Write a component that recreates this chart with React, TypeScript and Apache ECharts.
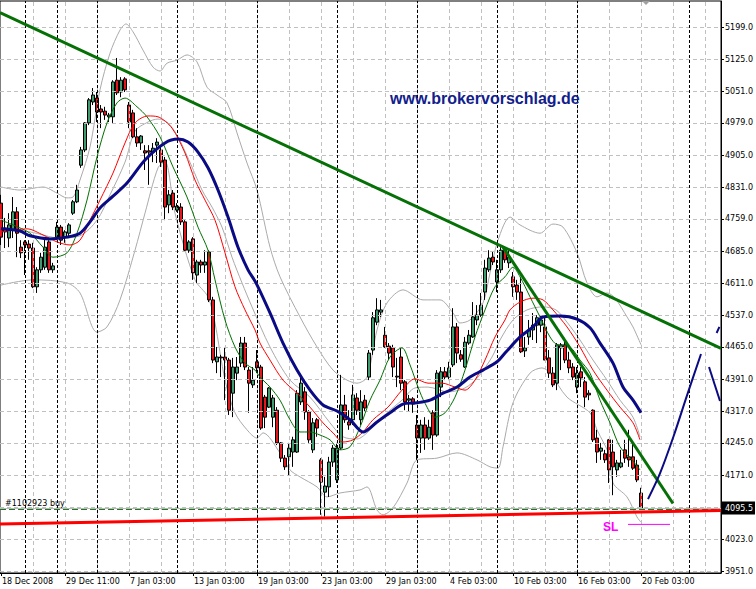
import React, { useEffect, useRef } from "react";
import * as echarts from "echarts";

// ---------- axis texts ----------
const tickBars = [0, 16, 32, 48, 64, 80, 96, 112, 128, 144, 160];
const tickLabels = ["18 Dec 2008", "29 Dec 11:00", "7 Jan 03:00", "13 Jan 03:00", "19 Jan 03:00", "23 Jan 03:00", "29 Jan 03:00", "4 Feb 03:00", "10 Feb 03:00", "16 Feb 03:00", "20 Feb 03:00"];
const priceLabels = [5199, 5125, 5051, 4979, 4905, 4831, 4759, 4685, 4611, 4537, 4465, 4391, 4317, 4245, 4171, 4023, 3951];
const priceGrid = [5199, 5125, 5051, 4979, 4905, 4831, 4759, 4685, 4611, 4537, 4465, 4391, 4317, 4245, 4171, 4097, 4023, 3951];
const gridBars = [8, 16, 24, 32, 40, 48, 56, 64, 72, 80, 88, 96, 104, 112, 120, 128, 136, 144, 152, 160, 168, 176];
const weekSeparators = [6, 14, 24, 44, 64, 84, 104, 124, 144, 172];

// ---------- candles (bar index = position in array) ----------
const opens = [
  4795, 4729, 4715, 4733, 4775, 4694, 4706, 4701, 4692, 4603,
  4642, 4648, 4706, 4642, 4717, 4740, 4717, 4726, 4772, 4798,
  4882, 4917, 4979, 5027, 5036, 5011, 5006, 4993, 4993, 5077,
  5050, 5080, 5020, 5002, 4947, 4933, 4915, 4915, 4912, 4928,
  4917, 4894, 4791, 4818, 4779, 4786, 4752, 4687, 4713, 4630,
  4660, 4653, 4683, 4573, 4431, 4442, 4442, 4435, 4359, 4405,
  4428, 4474, 4412, 4378, 4431, 4419, 4350, 4327, 4304, 4320,
  4245, 4210, 4213, 4224, 4224, 4339, 4362, 4316, 4229, 4298,
  4206, 4132, 4144, 4201, 4160, 4233, 4332, 4293, 4298, 4348,
  4298, 4343, 4396, 4458, 4522, 4545, 4492, 4467, 4463, 4398,
  4442, 4385, 4343, 4346, 4286, 4256, 4286, 4256, 4314, 4263,
  4373, 4408, 4396, 4424, 4511, 4447, 4419, 4474, 4488, 4527,
  4538, 4591, 4642, 4671, 4614, 4642, 4687, 4658, 4626, 4607,
  4591, 4456, 4488, 4504, 4515, 4515, 4511, 4440, 4405, 4382,
  4463, 4470, 4435, 4419, 4373, 4408, 4385, 4359, 4320, 4256,
  4226, 4220, 4252, 4224, 4183, 4190, 4229, 4213, 4213, 4194,
  4130,
];
const closes = [
  4717, 4738, 4745, 4775, 4726, 4681, 4699, 4692, 4603, 4642,
  4671, 4694, 4642, 4651, 4740, 4710, 4729, 4745, 4798, 4825,
  4917, 4979, 5032, 5043, 5004, 5004, 4997, 4997, 5073, 5048,
  5077, 5055, 4981, 4947, 4933, 4949, 4910, 4912, 4921, 4935,
  4889, 4786, 4814, 4786, 4788, 4752, 4687, 4706, 4635, 4660,
  4653, 4660, 4573, 4435, 4442, 4440, 4435, 4320, 4419, 4419,
  4474, 4419, 4382, 4389, 4417, 4279, 4304, 4371, 4348, 4245,
  4210, 4190, 4233, 4252, 4359, 4382, 4316, 4252, 4291, 4279,
  4155, 4146, 4201, 4233, 4233, 4332, 4298, 4286, 4355, 4320,
  4339, 4325, 4451, 4532, 4550, 4550, 4465, 4451, 4419, 4396,
  4382, 4339, 4346, 4334, 4256, 4286, 4256, 4281, 4263, 4405,
  4408, 4396, 4417, 4511, 4451, 4437, 4476, 4492, 4534, 4538,
  4561, 4646, 4669, 4660, 4642, 4687, 4665, 4671, 4603, 4591,
  4454, 4463, 4504, 4515, 4532, 4527, 4435, 4405, 4378, 4470,
  4470, 4435, 4417, 4396, 4405, 4394, 4350, 4355, 4252, 4224,
  4233, 4206, 4183, 4190, 4199, 4199, 4210, 4206, 4187, 4160,
  4095.5,
];
const lows = [
  4699, 4692, 4694, 4715, 4671, 4669, 4630, 4665, 4600, 4589,
  4635, 4642, 4635, 4635, 4710, 4699, 4704, 4717, 4768, 4795,
  4876, 4912, 4974, 5020, 4981, 4967, 4986, 4981, 4979, 5043,
  5038, 5050, 4967, 4944, 4924, 4917, 4871, 4837, 4889, 4887,
  4878, 4756, 4772, 4779, 4775, 4745, 4683, 4681, 4619, 4612,
  4635, 4635, 4568, 4428, 4405, 4396, 4343, 4309, 4304, 4389,
  4419, 4412, 4314, 4371, 4405, 4275, 4279, 4325, 4281, 4240,
  4201, 4183, 4171, 4190, 4222, 4332, 4298, 4245, 4222, 4259,
  4080, 4076, 4121, 4190, 4153, 4229, 4291, 4275, 4286, 4309,
  4286, 4316, 4389, 4447, 4515, 4534, 4463, 4435, 4396, 4373,
  4366, 4320, 4316, 4314, 4206, 4222, 4229, 4252, 4229, 4259,
  4350, 4389, 4389, 4419, 4428, 4431, 4417, 4470, 4486, 4515,
  4534, 4573, 4637, 4653, 4591, 4635, 4658, 4646, 4580, 4573,
  4451, 4442, 4470, 4481, 4474, 4499, 4435, 4394, 4373, 4366,
  4412, 4428, 4405, 4389, 4359, 4373, 4327, 4343, 4247, 4199,
  4206, 4199, 4153, 4125, 4167, 4187, 4199, 4190, 4183, 4155,
  4091,
];
const highs = [
  4814, 4761, 4772, 4809, 4786, 4710, 4710, 4710, 4704, 4648,
  4681, 4717, 4710, 4658, 4752, 4745, 4733, 4749, 4802, 4837,
  4924, 4981, 5036, 5059, 5050, 5020, 5016, 5002, 5077, 5128,
  5084, 5084, 5027, 5009, 4967, 4951, 4928, 4928, 4933, 4944,
  4924, 4901, 4825, 4825, 4795, 4795, 4756, 4710, 4717, 4665,
  4665, 4687, 4687, 4580, 4465, 4447, 4465, 4440, 4440, 4442,
  4488, 4488, 4419, 4419, 4458, 4424, 4355, 4373, 4355, 4327,
  4247, 4217, 4245, 4259, 4366, 4396, 4373, 4320, 4302, 4302,
  4210, 4167, 4213, 4240, 4245, 4401, 4355, 4320, 4378, 4359,
  4366, 4355, 4458, 4545, 4577, 4573, 4511, 4474, 4470, 4440,
  4465, 4389, 4355, 4350, 4309, 4298, 4304, 4298, 4320, 4412,
  4419, 4419, 4431, 4554, 4520, 4458, 4488, 4504, 4568, 4561,
  4589, 4665, 4687, 4683, 4665, 4694, 4694, 4687, 4637, 4619,
  4626, 4488, 4527, 4543, 4538, 4538, 4534, 4458, 4419, 4474,
  4474, 4486, 4454, 4428, 4419, 4419, 4396, 4366, 4322, 4275,
  4245, 4229, 4254, 4252, 4206, 4229, 4252, 4275, 4245, 4206,
  4142,
];

// ---------- indicator lines as [bar, price] ----------
const blueMA = [
  [0, 4736], [4.75, 4731], [7.25, 4720], [12.25, 4713], [16.5, 4717], [19.75, 4726], [22.25, 4752], [24.75, 4784],
  [28, 4811], [31.5, 4841], [36, 4894], [41, 4933], [44.25, 4942], [46.75, 4935], [49.25, 4912], [51.75, 4876],
  [54.25, 4825], [56.75, 4763], [59.25, 4694], [61.75, 4642], [63.75, 4612], [67.25, 4543], [70.5, 4474], [74, 4412],
  [77.25, 4366], [80.5, 4332], [84, 4318], [87.25, 4298], [90.5, 4270], [94, 4293], [97.25, 4314], [100.5, 4334],
  [104, 4337], [107.25, 4343], [110.5, 4359], [114, 4373], [117.25, 4396], [120.5, 4412], [124, 4431], [126, 4451],
  [129.75, 4488], [133, 4511], [135.5, 4534], [139.75, 4536], [144, 4529], [147.25, 4509], [149.75, 4474], [153, 4428],
  [155.5, 4373], [158, 4343], [160, 4314],
];
const redMA = [
  [0, 4729], [6.5, 4736], [10.5, 4722], [14, 4706], [17.25, 4699], [19.75, 4710], [22.25, 4756], [24.75, 4802],
  [28, 4864], [31, 4933], [33.5, 4979], [36.75, 4995], [39.25, 4993], [42.75, 4967], [46, 4910], [48.5, 4848],
  [51, 4802], [53.5, 4756], [56, 4681], [58.5, 4603], [61, 4550], [63.5, 4504], [64.75, 4474], [67.25, 4435],
  [70.5, 4389], [74, 4359], [77.25, 4327], [80.5, 4291], [83, 4268], [85.5, 4247], [88, 4252], [90.5, 4270],
  [93, 4298], [96.75, 4327], [100.25, 4366], [103.5, 4392], [106.75, 4382], [110.25, 4382], [113.5, 4373], [116, 4366],
  [118.5, 4389], [121, 4435], [123.5, 4488], [126, 4527], [127.25, 4550], [129.75, 4568], [133, 4577], [135.5, 4573],
  [138, 4550], [141.5, 4511], [144.75, 4465], [148, 4412], [151.5, 4366], [154.75, 4327], [158, 4291], [159.75, 4252],
];
const greenMA = [
  [0, 4756], [3, 4745], [7.25, 4726], [10.5, 4694], [13, 4671], [16.5, 4681], [19, 4726], [21.5, 4802],
  [24, 4901], [26.5, 4979], [29, 5025], [31, 5036], [34, 5016], [36.5, 4993], [39.75, 4947], [43, 4878],
  [46.5, 4809], [49.25, 4740], [51.75, 4687], [53.5, 4619], [56, 4527], [58.5, 4465], [61, 4428], [63.5, 4412],
  [64.75, 4396], [67.25, 4373], [69.75, 4343], [72.25, 4298], [74.75, 4270], [77.25, 4270], [79.75, 4263], [82.25, 4252],
  [84.75, 4229], [87.25, 4236], [89.75, 4281], [92.25, 4343], [94.75, 4389], [97.25, 4442], [100.25, 4463], [102.25, 4424],
  [104.25, 4373], [106, 4336], [108.5, 4304], [111, 4314], [113.5, 4350], [116, 4412], [118.5, 4488], [121, 4550],
  [123.5, 4603], [126, 4626], [128, 4648], [129.75, 4626], [132.25, 4580], [134.75, 4534], [137.25, 4488], [139, 4470],
  [142.25, 4465], [144.75, 4435], [147.25, 4405], [149.75, 4343], [152.25, 4291], [154.75, 4236], [157.75, 4206], [159.75, 4183],
];
const bbUpper = [
  [0, 4832], [4.75, 4825], [10.5, 4832], [14, 4818], [16.5, 4807], [18, 4809], [19.75, 4848], [22.25, 4924],
  [24.75, 5055], [27.25, 5139], [29.75, 5192], [31.25, 5206], [33, 5188], [35.5, 5146], [38, 5107], [39.75, 5098],
  [41.5, 5116], [44, 5123], [46.5, 5135], [49, 5119], [51.5, 5061], [54, 5043], [56.5, 5025], [59, 4956],
  [61.5, 4887], [64, 4825], [67.25, 4694], [69.75, 4626], [74.75, 4534], [79, 4465], [83, 4412], [86.5, 4389],
  [89, 4382], [91.5, 4396], [94, 4504], [96.5, 4566], [100.5, 4596], [105.5, 4573], [109.75, 4573], [113, 4543],
  [114.75, 4520], [117.25, 4527], [120.5, 4566], [122.25, 4635], [124.25, 4710], [127.25, 4763], [129.75, 4745], [134.75, 4726],
  [138, 4747], [140.5, 4740], [144, 4681], [146.5, 4612], [149, 4580], [151.5, 4589], [153.5, 4577], [156.5, 4534],
  [158, 4511], [160, 4470],
];
const bbMiddle = [
  [0, 4738], [7.25, 4729], [14.75, 4715], [19.75, 4720], [24, 4756], [27.25, 4814], [31, 4889], [33.5, 4960],
  [36.75, 4981], [39.25, 4988], [41.75, 4979], [44.25, 4947], [47.75, 4878], [50.25, 4825], [52.75, 4786], [55.25, 4740],
  [57.75, 4671], [60.25, 4612], [62.75, 4557], [67.25, 4465], [72.25, 4389], [77.25, 4350], [82.25, 4291], [85.5, 4259],
  [89, 4254], [91.5, 4268], [94.75, 4298], [96.75, 4316], [100.25, 4343], [103.5, 4371], [106.75, 4373], [111.75, 4362],
  [116, 4371], [119.25, 4396], [122.75, 4442], [124.75, 4481], [128, 4527], [131.5, 4550], [135.5, 4557], [138.75, 4550],
  [141.5, 4522], [144.75, 4481], [148, 4435], [151.5, 4389], [154.75, 4343], [158, 4304], [159.75, 4259],
];
const bbLower = [
  [0, 4607], [8, 4619], [16.5, 4612], [19.75, 4589], [24, 4499], [26.5, 4511], [29.75, 4573], [33.5, 4687],
  [36, 4772], [39.25, 4876], [41, 4890], [43.5, 4772], [48.5, 4619], [51.75, 4580], [53.5, 4520], [56, 4389],
  [58.5, 4314], [61.5, 4275], [64, 4256], [65.5, 4268], [69.75, 4222], [72.25, 4183], [74.75, 4167], [79, 4144],
  [81.5, 4121], [84.75, 4130], [89.75, 4137], [91.5, 4144], [94, 4091], [95.5, 4080], [98, 4096], [101.5, 4153],
  [104, 4206], [109, 4210], [114, 4222], [119, 4206], [122.25, 4190], [124.25, 4187], [125.5, 4236], [128, 4337],
  [132.25, 4405], [135.25, 4417], [137.25, 4405], [141.5, 4350], [147.25, 4314], [149, 4275], [152.25, 4213], [153, 4153],
  [156.5, 4121], [159, 4075], [160, 4063],
];

// ---------- drawn objects ----------
const bidPrice = 4095.5;
const orderPrice = 4092;
const supportLine = [[-0.25, 4059], [180, 4090]];
const longTrend = [[-0.25, 5232], [180, 4462]];
const steepTrend = [[125.5, 4694], [168, 4106]];
const arrowUp = [[161.75, 4116], [164.75, 4175], [168.1, 4259], [171.4, 4351], [175, 4449]];
const arrowDown = [[177, 4419], [179.75, 4341]];
const arrowTip = [[178.9, 4497], [179.6, 4511]];
const stopLoss = [[156.75, 4058], [167.25, 4058]];

const AXIS_FONT = "DejaVu Sans";

function lineSeries(name: string, data: number[][], color: string, width: number, z: number, smooth: number | boolean = 0.3) {
  return {
    name,
    type: "line",
    data,
    showSymbol: false,
    symbol: "none",
    smooth,
    silent: true,
    z,
    lineStyle: { color, width },
  };
}

export default function App() {
  const ref = useRef<HTMLDivElement>(null);
  useEffect(() => {
    document.body.style.margin = "0";
    const chart = echarts.init(ref.current!, null, { renderer: "svg", width: 756, height: 589 });
    const candleData = opens.map((o, i) => [i, o, closes[i], lows[i], highs[i]]);
    const option: any = {
      animation: false,
      backgroundColor: "#ffffff",
      grid: {
        left: 0, top: 1, width: 721, height: 572,
        show: true, borderColor: "#000", borderWidth: 1, backgroundColor: "#fff",
        containLabel: false, outerBoundsMode: "none",
      },
      xAxis: {
        type: "value", min: -0.25, max: 180, position: "bottom",
        axisLine: { show: true, onZero: false, lineStyle: { color: "#000", width: 1 } },
        axisTick: { show: true, customValues: tickBars, length: 3, lineStyle: { color: "#000" } },
        axisLabel: {
          customValues: tickBars,
          formatter: (v: number) => tickLabels[tickBars.indexOf(Math.round(v))] ?? "",
          align: "left", margin: 4, padding: [0, 0, 0, 1],
          color: "#000", fontFamily: AXIS_FONT, fontSize: 8,
        },
        splitLine: { show: false },
      },
      yAxis: {
        type: "value", position: "right", min: 3946.5, max: 5258.7,
        axisLine: { show: true, onZero: false, lineStyle: { color: "#000", width: 1 } },
        axisTick: { show: true, customValues: priceLabels, length: 3, lineStyle: { color: "#000" } },
        axisLabel: {
          customValues: priceLabels,
          formatter: (v: number) => v.toFixed(1),
          margin: 4, color: "#000", fontFamily: AXIS_FONT, fontSize: 8,
        },
        splitLine: { show: false },
      },
      graphic: [
        {
          type: "text", left: 390, top: 90, silent: true, z: 100,
          style: { text: "www.brokervorschlag.de", fill: "#10208c", font: 'bold 16px "Liberation Sans", Arial, sans-serif' },
        },
        {
          type: "text", left: 603, top: 521, silent: true, z: 100,
          style: { text: "SL", fill: "#ff00ff", font: 'bold 12px "Liberation Sans", Arial, sans-serif' },
        },
        {
          type: "polygon", silent: true, z: 100,
          shape: { points: [[642, 1], [650, 1], [646, 5]] },
          style: { fill: "#a0a0a0" },
        },
      ],
      series: [
        {
          name: "grid", type: "line", data: [], silent: true, z: 1,
          markLine: {
            silent: true, symbol: ["none", "none"], animation: false,
            label: { show: false },
            lineStyle: { color: "#c0c0c0", type: [4, 3], width: 1 },
            data: [
              ...gridBars.map((v) => ({ xAxis: v })),
              ...priceGrid.map((v) => ({ yAxis: v })),
            ],
          },
        },
        {
          name: "separators", type: "line", data: [], silent: true, z: 2,
          markLine: {
            silent: true, symbol: ["none", "none"], animation: false,
            label: { show: false },
            lineStyle: { color: "#000", type: [3, 2], width: 1 },
            data: weekSeparators.map((v) => ({ xAxis: v })),
          },
        },
        lineSeries("BB upper", bbUpper, "#aaaaaa", 1, 3),
        lineSeries("BB middle", bbMiddle, "#aaaaaa", 1, 3),
        lineSeries("BB lower", bbLower, "#aaaaaa", 1, 3),
        {
          name: "price", type: "candlestick", data: candleData, z: 4, silent: true,
          barWidth: 3,
          itemStyle: {
            color: "#3f9a6e", color0: "#e3161b",
            borderColor: "#000", borderColor0: "#000", borderWidth: 1,
          },
        },
        lineSeries("fast MA", greenMA, "#007000", 1, 5),
        lineSeries("mid MA", redMA, "#ff0000", 1, 5),
        lineSeries("slow MA", blueMA, "#0a0a84", 3, 5),
        {
          name: "levels", type: "line", data: [], silent: true, z: 6,
          markLine: {
            silent: true, symbol: ["none", "none"], animation: false,
            data: [
              {
                yAxis: orderPrice,
                lineStyle: { color: "#1f7a1f", type: [6, 3], width: 1 },
                label: {
                  show: true, position: "insideStartTop", formatter: "#1102923 buy",
                  color: "#000", fontFamily: AXIS_FONT, fontSize: 8, distance: [5, 2],
                },
              },
              {
                yAxis: bidPrice,
                lineStyle: { color: "#b8b8b8", type: "solid", width: 1 },
                label: {
                  show: true, position: "end", formatter: bidPrice.toFixed(1), distance: 1,
                  color: "#fff", backgroundColor: "#000", padding: [3, 2, 2, 3],
                  fontFamily: AXIS_FONT, fontSize: 8,
                },
              },
            ],
          },
        },
        lineSeries("support", supportLine, "#ff0000", 3, 7, false),
        lineSeries("trend long", longTrend, "#057005", 3, 7, false),
        lineSeries("trend steep", steepTrend, "#057005", 3, 7, false),
        lineSeries("arrow up", arrowUp, "#0a0a84", 2, 7, 0.3),
        lineSeries("arrow down", arrowDown, "#0a0a84", 2, 7, false),
        lineSeries("arrow tip", arrowTip, "#0a0a84", 2, 7, false),
        lineSeries("stop loss", stopLoss, "#ff00ff", 1, 7, false),
      ],
    };
    chart.setOption(option);
    return () => chart.dispose();
  }, []);
  return <div ref={ref} style={{ width: 756, height: 589 }} />;
}
